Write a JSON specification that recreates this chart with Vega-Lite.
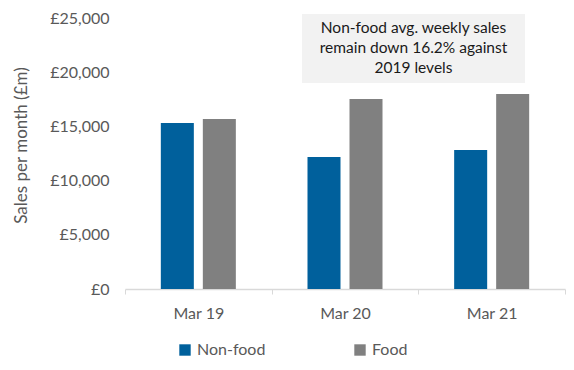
{
  "$schema": "https://vega.github.io/schema/vega-lite/v6.json",
  "width": 440,
  "height": 271,
  "autosize": "none",
  "padding": {"left": 125, "top": 18, "right": 9, "bottom": 81},
  "background": "white",
  "config": {
    "view": {"stroke": null},
    "font": "Lato",
    "axis": {"labelFont": "Lato", "titleFont": "Lato", "labelColor": "#595959", "titleColor": "#595959", "grid": false}
  },
  "datasets": {
    "sales": [
      {"month": "Mar 19", "type": "Non-food", "sales": 15310},
      {"month": "Mar 19", "type": "Food", "sales": 15680},
      {"month": "Mar 20", "type": "Non-food", "sales": 12180},
      {"month": "Mar 20", "type": "Food", "sales": 17530},
      {"month": "Mar 21", "type": "Non-food", "sales": 12820},
      {"month": "Mar 21", "type": "Food", "sales": 17990}
    ],
    "note": [
      {"x1": 1.207, "x2": 2.727, "y1": 19000, "y2": 25370, "tx": 1.967, "ty": 24080,
       "label": ["Non-food avg. weekly sales", "remain down 16.2% against", "2019 levels"]}
    ]
  },
  "layer": [
    {
      "data": {"name": "sales"},
      "mark": {"type": "bar"},
      "encoding": {
        "x": {
          "field": "month", "type": "nominal", "sort": ["Mar 19", "Mar 20", "Mar 21"],
          "scale": {"paddingInner": 0, "paddingOuter": 0},
          "axis": {"title": null, "labelAngle": 0, "labelFontSize": 16, "labelPadding": 11,
                   "tickBand": "extent", "tickSize": 5, "tickColor": "#D9D9D9",
                   "domainColor": "#D9D9D9", "domainWidth": 1.5}
        },
        "xOffset": {"field": "type", "type": "nominal", "sort": ["Non-food", "Food"],
                    "scale": {"paddingInner": 0.214, "paddingOuter": 0.853}},
        "y": {
          "field": "sales", "type": "quantitative",
          "scale": {"domain": [0, 25000], "nice": false},
          "axis": {"title": "Sales per month (£m)", "values": [0, 5000, 10000, 15000, 20000, 25000],
                   "labelExpr": "'£' + format(datum.value, ',')", "labelFontSize": 16,
                   "ticks": false, "domain": false, "labelPadding": 16,
                   "titleFontSize": 17, "titleFontWeight": "normal", "titleX": -95, "titleY": 127}
        },
        "color": {
          "field": "type", "type": "nominal", "sort": ["Non-food", "Food"],
          "scale": {"domain": ["Non-food", "Food"], "range": ["#00609C", "#808080"]},
          "legend": {"title": null, "orient": "none", "direction": "horizontal",
                     "legendX": 52, "legendY": 324, "symbolType": "square", "symbolSize": 130,
                     "symbolStrokeWidth": 0, "labelFontSize": 16, "labelColor": "#595959",
                     "labelFont": "Lato", "columnPadding": 86, "labelOffset": 4}
        }
      }
    },
    {
      "data": {"name": "note"},
      "mark": {"type": "rect", "color": "#F2F2F2", "clip": false},
      "encoding": {
        "x": {"field": "x1", "type": "quantitative", "scale": {"domain": [0, 3]}, "axis": null},
        "x2": {"field": "x2"},
        "y": {"field": "y1", "type": "quantitative"},
        "y2": {"field": "y2"}
      }
    },
    {
      "data": {"name": "note"},
      "mark": {"type": "text", "fontSize": 15.5, "lineHeight": 20, "color": "#1a1a1a", "align": "center", "baseline": "middle", "font": "Lato"},
      "encoding": {
        "x": {"field": "tx", "type": "quantitative", "scale": {"domain": [0, 3]}, "axis": null},
        "y": {"field": "ty", "type": "quantitative"},
        "text": {"field": "label"}
      }
    }
  ],
  "resolve": {"scale": {"x": "independent"}}
}
